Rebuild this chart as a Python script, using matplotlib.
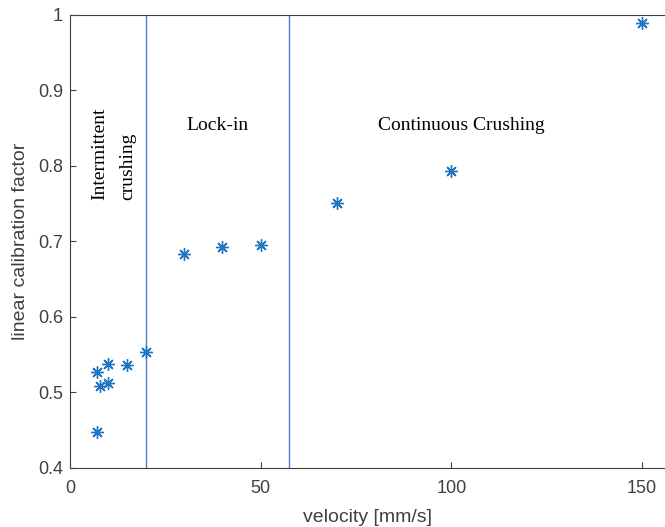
import matplotlib.pyplot as plt

# measured points (velocity, calibration factor)
velocity = [7, 7, 8, 10, 10, 15, 20, 30, 40, 50, 70, 100, 150]
factor = [0.448, 0.527, 0.509, 0.538, 0.513, 0.536, 0.554, 0.683, 0.693, 0.695, 0.751, 0.793, 0.989]

# regime boundaries
boundaries = [20, 57.5]
regimes = ['Lock-in', 'Continuous Crushing']
regime_x = [38.6, 102.5]

xticks = [0, 50, 100, 150]
yticks = [0.4, 0.5, 0.6, 0.7, 0.8, 0.9, 1.0]
ytick_labels = ['0.4', '0.5', '0.6', '0.7', '0.8', '0.9', '1']

blue = '#1f77c4'
grey = '#404040'

fig = plt.figure(figsize=(6.65, 5.27), dpi=100)
ax = fig.add_axes([0.105, 0.112, 0.895, 0.86])

for b in boundaries:
    ax.axvline(b, color='#4a80c8', linewidth=1.0)

ax.plot(velocity, factor, linestyle='none', marker=(8, 2, 0), markersize=9,
        markeredgewidth=1.0, color=blue)

# regime annotations
serif = 'Liberation Serif'
ax.text(7.9, 0.755, 'Intermittent', rotation=90, ha='center', va='bottom',
        fontsize=14, family=serif, color='black')
ax.text(15.2, 0.755, 'crushing', rotation=90, ha='center', va='bottom',
        fontsize=14, family=serif, color='black')
for name, x in zip(regimes, regime_x):
    ax.text(x, 0.854, name, ha='center', va='center', fontsize=14, family=serif)

ax.set_xlim(0, 156)
ax.set_ylim(0.4, 1.0)
ax.set_xticks(xticks)
ax.set_yticks(yticks)
ax.set_yticklabels(ytick_labels)
ax.tick_params(direction='in', colors=grey, labelsize=13, length=4)
ax.tick_params(axis='x', pad=9)
ax.tick_params(axis='y', pad=5)
for lbl in ax.get_xticklabels() + ax.get_yticklabels():
    lbl.set_family('Liberation Sans')

for side in ['left', 'bottom', 'top']:
    ax.spines[side].set_color(grey)
ax.spines['right'].set_visible(False)

ax.set_xlabel('velocity [mm/s]', fontsize=14, color=grey, family='Liberation Sans', labelpad=8)
ax.set_ylabel('linear calibration factor', fontsize=14, color=grey, family='Liberation Sans', labelpad=6)

fig.savefig('out.png', dpi=100)
